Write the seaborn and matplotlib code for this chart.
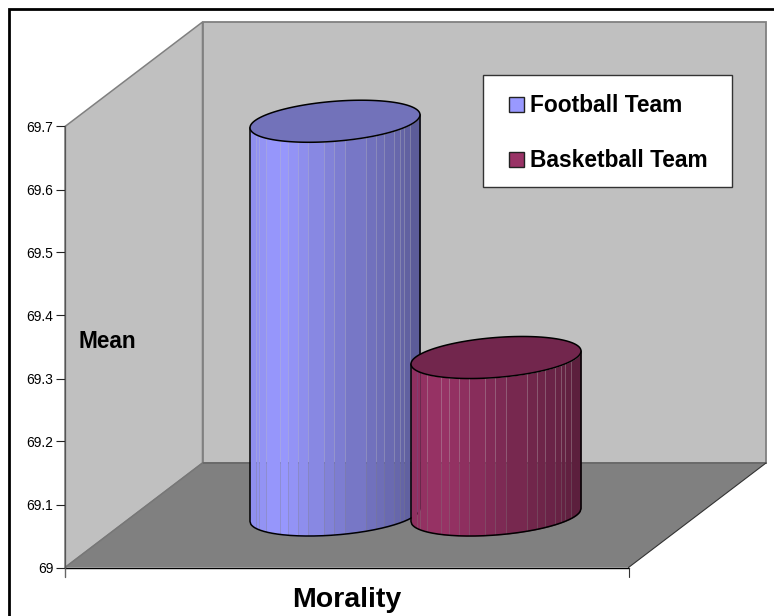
import numpy as np
import pandas as pd
import seaborn as sns
import matplotlib.pyplot as plt
from matplotlib.colors import to_rgb
from matplotlib.patches import Polygon, Rectangle, Patch

teams = ['Football Team', 'Basketball Team']
means = [69.625, 69.25]
bar_colors = ['#9999FF', '#993366']
top_colors = ['#7272BA', '#72264D']
y_ticks = [69, 69.1, 69.2, 69.3, 69.4, 69.5, 69.6, 69.7]
y_labels = ['69', '69.1', '69.2', '69.3', '69.4', '69.5', '69.6', '69.7']

sns.set_style('white')
plt.rcParams['font.family'] = ['Liberation Sans', 'DejaVu Sans']
plt.rcParams['text.color'] = 'black'
plt.rcParams['ytick.color'] = 'black'
plt.rcParams['ytick.labelcolor'] = 'black'

W, H = 774, 616
PX_PER_UNIT = 630   # 441 px = 0.7 on the y axis
PX_PER_CAT = 161    # distance between the two cylinders

fig = plt.figure(figsize=(W / 100, H / 100), dpi=100, facecolor='white')

# background: walls and floor, in pixels
bg = fig.add_axes([0, 0, 1, 1])
bg.set_xlim(0, W)
bg.set_ylim(H, 0)
bg.axis('off')
bg.add_patch(Polygon([(65, 126.5), (202.5, 22), (202.5, 463), (65, 567.5)], fc='#C0C0C0', ec='#808080', lw=1.1))
bg.add_patch(Polygon([(202.5, 22), (766, 22), (766, 463), (202.5, 463)], fc='#C0C0C0', ec='#808080', lw=1.3))
bg.add_patch(Polygon([(65, 567.5), (202.5, 463), (766, 463), (628.5, 567.5)], fc='#808080', ec='none'))
bg.plot([202.5, 766], [463, 463], color='#666666', lw=1.2)
bg.plot([65, 202.5], [567.5, 463], color='#777777', lw=1)
bg.plot([628.5, 766], [567.5, 463], color='#333333', lw=0.8)
bg.plot([65, 628.5], [567.5, 567.5], color='black', lw=1)
bg.plot([65, 65], [567.5, 577], color='#666666', lw=1)
bg.plot([628.5, 628.5], [567.5, 577], color='#333333', lw=0.8)
# chart area border, top and left only
bg.plot([9, 9, W], [H, 9, 9], color='black', lw=2, solid_joinstyle='miter')

# front y axis
ax_y = fig.add_axes([0, 0, 1, 1])
ax_y.patch.set_alpha(0)
ax_y.set_xlim(0, W)
ax_y.set_ylim(69 - (H - 567.5) / PX_PER_UNIT, 69 + 567.5 / PX_PER_UNIT)
ax_y.set_xticks([])
ax_y.set_yticks(y_ticks)
ax_y.set_yticklabels(y_labels, fontsize=9)
ax_y.tick_params(axis='y', direction='out', left=True, length=6.5, width=0.8, pad=2, color='#222222')
for side in ['top', 'right', 'bottom']:
    ax_y.spines[side].set_visible(False)
ax_y.spines['left'].set_position(('data', 65))
ax_y.spines['left'].set_bounds(69, 69.7)
ax_y.spines['left'].set_color('#555555')
ax_y.spines['left'].set_linewidth(0.9)

# cylinders sit half way into the depth of the floor
df = pd.DataFrame({'Team': teams, 'Mean': means})
ax = fig.add_axes([0, 0, 1, 1])
ax.patch.set_alpha(0)
sns.barplot(data=df, x='Team', y='Mean', hue='Team', palette=bar_colors,
            width=170 / PX_PER_CAT, legend=False, ax=ax)
base_px = 515
ax.set_xlim(-335 / PX_PER_CAT, (W - 335) / PX_PER_CAT)
ax.set_ylim(69 - (H - base_px) / PX_PER_UNIT, 69 + base_px / PX_PER_UNIT)
ax.axis('off')

# shading bands across the cylinder, px from the left edge
seams = [0, 6, 9, 16, 30, 38, 48, 58, 74, 84, 95, 116, 126, 134, 144, 150, 154, 160, 170]
shade_x = [0, 0.18, 0.5, 0.85, 1]
shade_f = [0.93, 1.0, 0.83, 0.68, 0.58]
gap = 0.08   # bands do not quite touch, the wall shows through as in the original

bars = sorted(ax.patches, key=lambda p: p.get_x())
for i, (bar, col, top_col) in enumerate(zip(bars, bar_colors, top_colors)):
    bar.set_visible(False)
    z = 3 + i * 3
    x0 = bar.get_x()
    bw = bar.get_width()
    top = bar.get_height()
    xc = x0 + bw / 2
    hw = bw / 2
    tilt = 6.5 / PX_PER_UNIT
    minor = 20 / PX_PER_UNIT

    def front(x, y0):
        u = np.clip((x - xc) / hw, -1, 1)
        return y0 + tilt * u - minor * np.sqrt(1 - u ** 2)

    rgb = np.array(to_rgb(col))
    for a, b in zip(seams[:-1], seams[1:]):
        pa = a + (gap if a > 0 else 0)
        pb = b - (gap if b < seams[-1] else 0)
        xs = np.linspace(x0 + pa / PX_PER_CAT, x0 + pb / PX_PER_CAT, 12)
        f = np.interp((a + b) / 2 / seams[-1], shade_x, shade_f)
        ax.fill_between(xs, front(xs, 69), front(xs, top), color=rgb * f, lw=0, zorder=z)

    # outline of the body
    t = np.linspace(0, 2 * np.pi, 200)
    ex = xc + hw * np.cos(t)
    ax.add_patch(Polygon(np.column_stack([ex, top + tilt * np.cos(t) + minor * np.sin(t)]),
                         fc=top_col, ec='black', lw=1.1, zorder=z + 2))
    arc = np.linspace(x0, x0 + bw, 200)
    ax.plot(np.r_[x0, arc, x0 + bw], np.r_[front(x0, top), front(arc, 69), front(x0 + bw, top)],
            color='black', lw=1.1, zorder=z + 1, solid_joinstyle='round')

# legend
bg2 = fig.add_axes([0, 0, 1, 1])
bg2.patch.set_alpha(0)
bg2.set_xlim(0, W)
bg2.set_ylim(H, 0)
bg2.axis('off')
bg2.add_patch(Rectangle((482.5, 75), 249.5, 112, fc='white', ec='#333333', lw=1))
handles = [Patch(fc=c, ec='#222222', lw=1) for c in bar_colors]
bg2.legend(handles, teams, loc='upper left', bbox_to_anchor=(509 / W, 1 - 94.5 / H), borderpad=0,
           borderaxespad=0, frameon=False, labelcolor='black', prop={'size': 16.4, 'weight': 'bold'},
           handlelength=0.66, handleheight=0.66, handletextpad=0.27, labelspacing=1.4)

bg2.text(78, 341, 'Mean', fontsize=16.3, fontweight='bold', ha='left', va='center')
bg2.text(346.5, 600, 'Morality', fontsize=20.5, fontweight='bold', ha='center', va='center')

fig.savefig('out.png', dpi=100)
